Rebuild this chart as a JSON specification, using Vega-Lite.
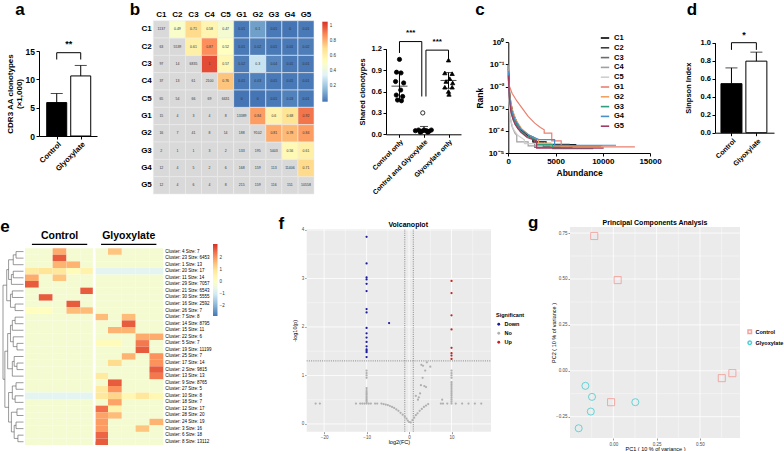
{
"$schema":"https://vega.github.io/schema/vega-lite/v6.json",
"width":784,"height":451,"padding":0,"autosize":{"type":"none"},"background":"white",
"config":{"view":{"stroke":null},"font":"Liberation Sans","axis":{"labelFont":"Liberation Sans","titleFont":"Liberation Sans","labelOverlap":false,"labelFlush":false,"grid":false},"legend":{"labelFont":"Liberation Sans","titleFont":"Liberation Sans","padding":0}},
"datasets":{
"a":[{"g":1,"m":5.9,"e":7.5},{"g":2,"m":10.6,"e":12.45}],
"abr":[{"x":1,"x2":2,"y":14.7,"y2":14.7},{"x":1,"x2":1,"y":13.5,"y2":14.7},{"x":2,"x2":2,"y":13.5,"y2":14.7}],
"d":[{"g":1,"m":0.545,"e":0.72},{"g":2,"m":0.795,"e":0.895}],
"dbr":[{"x":1,"x2":2,"y":1.0,"y2":1.0},{"x":1,"x2":1,"y":0.92,"y2":1.0},{"x":2,"x2":2,"y":0.92,"y2":1.0}],
"sh":[{"g":1,"x":1.0,"y":1.05},{"g":1,"x":0.88,"y":0.87},{"g":1,"x":1.06,"y":0.86},{"g":1,"x":0.84,"y":0.74},{"g":1,"x":1.17,"y":0.72},{"g":1,"x":1.05,"y":0.62},{"g":1,"x":0.87,"y":0.55},{"g":1,"x":1.13,"y":0.53},{"g":1,"x":0.92,"y":0.48},{"g":1,"x":1.08,"y":0.47},
{"g":2,"x":1.65,"y":0.05},{"g":2,"x":1.78,"y":0.06},{"g":2,"x":1.9,"y":0.04},{"g":2,"x":2.0,"y":0.06},{"g":2,"x":2.1,"y":0.05},{"g":2,"x":2.2,"y":0.04},{"g":2,"x":2.3,"y":0.06},{"g":2,"x":1.85,"y":0.03},{"g":2,"x":2.15,"y":0.03},{"g":2,"x":1.95,"y":0.3,"open":1},
{"g":3,"x":3.0,"y":1.04},{"g":3,"x":2.85,"y":0.86},{"g":3,"x":3.15,"y":0.85},{"g":3,"x":3.05,"y":0.78},{"g":3,"x":2.9,"y":0.74},{"g":3,"x":3.17,"y":0.72},{"g":3,"x":2.85,"y":0.66},{"g":3,"x":3.15,"y":0.66},{"g":3,"x":3.0,"y":0.6},{"g":3,"x":3.02,"y":0.56}],
"shs":[{"x":1,"m":0.675,"lo":0.49,"hi":0.86},{"x":2,"m":0.065,"lo":0.03,"hi":0.11},{"x":3,"m":0.755,"lo":0.645,"hi":0.865}],
"shbr":[{"x":1,"x2":1.91,"y":1.3,"y2":1.3},{"x":1,"x2":1,"y":1.14,"y2":1.3},{"x":1.91,"x2":1.91,"y":0.53,"y2":1.3},{"x":2.08,"x2":3,"y":1.18,"y2":1.18},{"x":2.08,"x2":2.08,"y":0.53,"y2":1.18},{"x":3,"x2":3,"y":1.02,"y2":1.18}],
"hb":[{"r":"C1","c":"C2","v":0.49},{"r":"C1","c":"C3","v":0.71},{"r":"C1","c":"C4","v":0.58},{"r":"C1","c":"C5","v":0.47},{"r":"C1","c":"G1","v":0.01},{"r":"C1","c":"G2","v":0.1},{"r":"C1","c":"G3","v":0.01},{"r":"C1","c":"G4","v":0.0},{"r":"C1","c":"G5","v":0.01},
{"r":"C2","c":"C3","v":0.61},{"r":"C2","c":"C4","v":0.87},{"r":"C2","c":"C5","v":0.52},{"r":"C2","c":"G1","v":0.01},{"r":"C2","c":"G2","v":0.02},{"r":"C2","c":"G3","v":0.01},{"r":"C2","c":"G4","v":0.01},{"r":"C2","c":"G5","v":0.02},
{"r":"C3","c":"C4","v":1.0},{"r":"C3","c":"C5","v":0.57},{"r":"C3","c":"G1","v":0.02},{"r":"C3","c":"G2","v":0.3},{"r":"C3","c":"G3","v":0.04},{"r":"C3","c":"G4","v":0.01},{"r":"C3","c":"G5","v":0.01},
{"r":"C4","c":"C5","v":0.76},{"r":"C4","c":"G1","v":0.01},{"r":"C4","c":"G2","v":0.03},{"r":"C4","c":"G3","v":0.01},{"r":"C4","c":"G4","v":0.01},{"r":"C4","c":"G5","v":0.01},
{"r":"C5","c":"G1","v":0.0},{"r":"C5","c":"G2","v":0.0},{"r":"C5","c":"G3","v":0.01},{"r":"C5","c":"G4","v":0.03},{"r":"C5","c":"G5","v":0.01},
{"r":"G1","c":"G2","v":0.84},{"r":"G1","c":"G3","v":0.6},{"r":"G1","c":"G4","v":0.68},{"r":"G1","c":"G5","v":0.92},
{"r":"G2","c":"G3","v":0.81},{"r":"G2","c":"G4","v":0.78},{"r":"G2","c":"G5","v":0.84},
{"r":"G3","c":"G4","v":0.56},{"r":"G3","c":"G5","v":0.61},{"r":"G4","c":"G5","v":0.71}],
"hbn":[{"r":"C1","c":"C1","n":1137},{"r":"C2","c":"C2","n":5539},{"r":"C3","c":"C3","n":6835},{"r":"C4","c":"C4","n":2100},{"r":"C5","c":"C5","n":6631},{"r":"G1","c":"G1","n":13389},{"r":"G2","c":"G2","n":9102},{"r":"G3","c":"G3","n":5003},{"r":"G4","c":"G4","n":11406},{"r":"G5","c":"G5","n":10558},
{"r":"C2","c":"C1","n":63},
{"r":"C3","c":"C1","n":97},{"r":"C3","c":"C2","n":14},
{"r":"C4","c":"C1","n":37},{"r":"C4","c":"C2","n":13},{"r":"C4","c":"C3","n":61},
{"r":"C5","c":"C1","n":65},{"r":"C5","c":"C2","n":54},{"r":"C5","c":"C3","n":66},{"r":"C5","c":"C4","n":69},
{"r":"G1","c":"C1","n":15},{"r":"G1","c":"C2","n":4},{"r":"G1","c":"C3","n":3},{"r":"G1","c":"C4","n":4},{"r":"G1","c":"C5","n":8},
{"r":"G2","c":"C1","n":16},{"r":"G2","c":"C2","n":7},{"r":"G2","c":"C3","n":41},{"r":"G2","c":"C4","n":8},{"r":"G2","c":"C5","n":14},{"r":"G2","c":"G1","n":188},
{"r":"G3","c":"C1","n":2},{"r":"G3","c":"C2","n":1},{"r":"G3","c":"C3","n":1},{"r":"G3","c":"C4","n":3},{"r":"G3","c":"C5","n":2},{"r":"G3","c":"G1","n":133},{"r":"G3","c":"G2","n":195},
{"r":"G4","c":"C1","n":12},{"r":"G4","c":"C2","n":4},{"r":"G4","c":"C3","n":5},{"r":"G4","c":"C4","n":2},{"r":"G4","c":"C5","n":6},{"r":"G4","c":"G1","n":168},{"r":"G4","c":"G2","n":159},{"r":"G4","c":"G3","n":113},
{"r":"G5","c":"C1","n":12},{"r":"G5","c":"C2","n":4},{"r":"G5","c":"C3","n":6},{"r":"G5","c":"C4","n":4},{"r":"G5","c":"C5","n":8},{"r":"G5","c":"G1","n":215},{"r":"G5","c":"G2","n":159},{"r":"G5","c":"G3","n":116},{"r":"G5","c":"G4","n":151}],
"c":[
{"s":"C1","x":0,"y":0.1},{"s":"C1","x":80,"y":0.01},{"s":"C1","x":250,"y":0.002},{"s":"C1","x":500,"y":0.000631},{"s":"C1","x":900,"y":0.000251},{"s":"C1","x":1400,"y":0.000112},{"s":"C1","x":2000,"y":0.0000631},{"s":"C1","x":2600,"y":0.0000447},{"s":"C1","x":2600,"y":0.0000316},{"s":"C1","x":4000,"y":0.0000316},{"s":"C1","x":4000,"y":0.000024},{"s":"C1","x":7200,"y":0.000024},
{"s":"C2","x":0,"y":0.0794},{"s":"C2","x":80,"y":0.00631},{"s":"C2","x":250,"y":0.00126},{"s":"C2","x":600,"y":0.000398},{"s":"C2","x":1000,"y":0.000158},{"s":"C2","x":1700,"y":0.0000794},{"s":"C2","x":2700,"y":0.0000501},{"s":"C2","x":2700,"y":0.0000316},{"s":"C2","x":3700,"y":0.0000316},{"s":"C2","x":3700,"y":0.00002},{"s":"C2","x":9800,"y":0.00002},
{"s":"C3","x":0,"y":0.0631},{"s":"C3","x":60,"y":0.00501},{"s":"C3","x":200,"y":0.001},{"s":"C3","x":500,"y":0.000316},{"s":"C3","x":1000,"y":0.000126},{"s":"C3","x":1800,"y":0.0000631},{"s":"C3","x":2800,"y":0.0000398},{"s":"C3","x":2800,"y":0.0000178},{"s":"C3","x":6800,"y":0.0000178},
{"s":"C4","x":0,"y":0.1},{"s":"C4","x":40,"y":0.00316},{"s":"C4","x":150,"y":0.000501},{"s":"C4","x":400,"y":0.000158},{"s":"C4","x":700,"y":0.0000794},{"s":"C4","x":900,"y":0.0000631},{"s":"C4","x":900,"y":0.0000316},{"s":"C4","x":2100,"y":0.0000316},{"s":"C4","x":2100,"y":0.0000209},{"s":"C4","x":6400,"y":0.0000209},
{"s":"C5","x":0,"y":0.0501},{"s":"C5","x":60,"y":0.00251},{"s":"C5","x":200,"y":0.000398},{"s":"C5","x":500,"y":0.000126},{"s":"C5","x":1000,"y":0.0000631},{"s":"C5","x":1700,"y":0.0000398},{"s":"C5","x":1700,"y":0.0000263},{"s":"C5","x":6500,"y":0.0000263},
{"s":"G1","x":0,"y":0.0141},{"s":"G1","x":400,"y":0.00501},{"s":"G1","x":900,"y":0.00224},{"s":"G1","x":1500,"y":0.001},{"s":"G1","x":2100,"y":0.000447},{"s":"G1","x":2800,"y":0.000224},{"s":"G1","x":3400,"y":0.000141},{"s":"G1","x":3800,"y":0.000112},{"s":"G1","x":3800,"y":0.0000794},{"s":"G1","x":4600,"y":0.0000794},{"s":"G1","x":4600,"y":0.0000355},{"s":"G1","x":5600,"y":0.0000355},{"s":"G1","x":5600,"y":0.0000191},{"s":"G1","x":13400,"y":0.0000191},
{"s":"G2","x":0,"y":0.0251},{"s":"G2","x":150,"y":0.00398},{"s":"G2","x":400,"y":0.001},{"s":"G2","x":800,"y":0.000316},{"s":"G2","x":1400,"y":0.000126},{"s":"G2","x":2200,"y":0.0000631},{"s":"G2","x":3200,"y":0.0000398},{"s":"G2","x":3200,"y":0.0000282},{"s":"G2","x":4500,"y":0.0000282},{"s":"G2","x":4500,"y":0.0000209},{"s":"G2","x":10000,"y":0.0000209},
{"s":"G3","x":0,"y":0.0398},{"s":"G3","x":100,"y":0.00398},{"s":"G3","x":300,"y":0.000794},{"s":"G3","x":700,"y":0.000251},{"s":"G3","x":1300,"y":0.0001},{"s":"G3","x":2000,"y":0.0000562},{"s":"G3","x":3000,"y":0.0000398},{"s":"G3","x":3000,"y":0.000024},{"s":"G3","x":4700,"y":0.000024},{"s":"G3","x":4700,"y":0.0000158},{"s":"G3","x":9000,"y":0.0000158},
{"s":"G4","x":0,"y":0.0501},{"s":"G4","x":100,"y":0.00501},{"s":"G4","x":300,"y":0.001},{"s":"G4","x":700,"y":0.000316},{"s":"G4","x":1300,"y":0.000126},{"s":"G4","x":2200,"y":0.0000631},{"s":"G4","x":3300,"y":0.0000398},{"s":"G4","x":4900,"y":0.0000398},{"s":"G4","x":4900,"y":0.0000224},{"s":"G4","x":11400,"y":0.0000224},
{"s":"G5","x":0,"y":0.0316},{"s":"G5","x":100,"y":0.00316},{"s":"G5","x":300,"y":0.000631},{"s":"G5","x":700,"y":0.0002},{"s":"G5","x":1300,"y":0.0000891},{"s":"G5","x":2000,"y":0.0000501},{"s":"G5","x":3000,"y":0.0000355},{"s":"G5","x":3000,"y":0.0000166},{"s":"G5","x":10100,"y":0.0000166}],
"he":[
{"cl":"Cluster: 4 Size: 7","C1":-0.15,"C2":-0.15,"C3":1.8,"C4":-0.15,"C5":-0.15,"G1":-0.15,"G2":1.5,"G3":-0.15,"G4":-0.15,"G5":-0.15},
{"cl":"Cluster: 23 Size: 6453","C1":-0.15,"C2":-0.15,"C3":2.7,"C4":-0.15,"C5":-0.15,"G1":-0.15,"G2":-0.15,"G3":-0.15,"G4":-0.15,"G5":-0.15},
{"cl":"Cluster: 1 Size: 13","C1":-0.15,"C2":-0.15,"C3":1.7,"C4":1.7,"C5":-0.15,"G1":-0.15,"G2":-0.15,"G3":-0.15,"G4":-0.15,"G5":-0.15},
{"cl":"Cluster: 20 Size: 17","C1":0.8,"C2":1.0,"C3":0.9,"C4":0.3,"C5":0.6,"G1":-0.7,"G2":-0.7,"G3":-0.7,"G4":-0.7,"G5":-0.7},
{"cl":"Cluster: 11 Size: 14","C1":1.8,"C2":-0.15,"C3":1.5,"C4":-0.15,"C5":-0.15,"G1":-0.15,"G2":-0.15,"G3":-0.15,"G4":-0.15,"G5":-0.15},
{"cl":"Cluster: 29 Size: 7057","C1":2.7,"C2":-0.15,"C3":-0.15,"C4":-0.15,"C5":-0.15,"G1":-0.15,"G2":-0.15,"G3":-0.15,"G4":-0.15,"G5":-0.15},
{"cl":"Cluster: 21 Size: 6543","C1":-0.15,"C2":-0.15,"C3":-0.15,"C4":-0.15,"C5":2.7,"G1":-0.15,"G2":-0.15,"G3":-0.15,"G4":-0.15,"G5":-0.15},
{"cl":"Cluster: 30 Size: 5555","C1":-0.15,"C2":2.7,"C3":-0.15,"C4":-0.15,"C5":-0.15,"G1":-0.15,"G2":-0.15,"G3":-0.15,"G4":-0.15,"G5":-0.15},
{"cl":"Cluster: 16 Size: 2592","C1":-0.15,"C2":-0.15,"C3":-0.15,"C4":2.7,"C5":-0.15,"G1":-0.15,"G2":-0.15,"G3":-0.15,"G4":-0.15,"G5":-0.15},
{"cl":"Cluster: 26 Size: 7","C1":0.2,"C2":0.2,"C3":-0.15,"C4":1.6,"C5":1.6,"G1":-0.15,"G2":-0.15,"G3":-0.15,"G4":-0.15,"G5":-0.15},
{"cl":"Cluster: 7 Size: 8","C1":-0.15,"C2":-0.15,"C3":-0.15,"C4":-0.15,"C5":-0.15,"G1":1.6,"G2":-0.15,"G3":1.6,"G4":-0.15,"G5":-0.15},
{"cl":"Cluster: 14 Size: 8795","C1":-0.15,"C2":-0.15,"C3":-0.15,"C4":-0.15,"C5":-0.15,"G1":-0.15,"G2":-0.15,"G3":2.7,"G4":-0.15,"G5":-0.15},
{"cl":"Cluster: 15 Size: 11","C1":-0.15,"C2":-0.15,"C3":-0.15,"C4":-0.15,"C5":-0.15,"G1":-0.15,"G2":1.7,"G3":1.7,"G4":-0.15,"G5":-0.15},
{"cl":"Cluster: 22 Size: 6","C1":-0.15,"C2":-0.15,"C3":-0.15,"C4":-0.15,"C5":-0.15,"G1":-0.15,"G2":-0.15,"G3":-0.15,"G4":1.8,"G5":1.8},
{"cl":"Cluster: 5 Size: 7","C1":-0.15,"C2":-0.15,"C3":-0.15,"C4":-0.15,"C5":-0.15,"G1":0.3,"G2":0.3,"G3":-0.15,"G4":2.4,"G5":-0.15},
{"cl":"Cluster: 19 Size: 11199","C1":-0.15,"C2":-0.15,"C3":-0.15,"C4":-0.15,"C5":-0.15,"G1":-0.15,"G2":-0.15,"G3":-0.15,"G4":2.7,"G5":-0.15},
{"cl":"Cluster: 25 Size: 7","C1":-0.15,"C2":-0.15,"C3":-0.15,"C4":-0.15,"C5":-0.15,"G1":-0.15,"G2":-0.15,"G3":1.7,"G4":-0.15,"G5":2.1},
{"cl":"Cluster: 17 Size: 14","C1":-0.15,"C2":-0.15,"C3":-0.15,"C4":-0.15,"C5":-0.15,"G1":-0.15,"G2":1.2,"G3":-0.15,"G4":-0.15,"G5":2.1},
{"cl":"Cluster: 2 Size: 9815","C1":-0.15,"C2":-0.15,"C3":-0.15,"C4":-0.15,"C5":-0.15,"G1":-0.15,"G2":-0.15,"G3":-0.15,"G4":-0.15,"G5":2.7},
{"cl":"Cluster: 13 Size: 13","C1":-0.15,"C2":-0.15,"C3":-0.15,"C4":-0.15,"C5":-0.15,"G1":0.8,"G2":-0.15,"G3":-0.15,"G4":-0.15,"G5":2.4},
{"cl":"Cluster: 9 Size: 8765","C1":-0.15,"C2":-0.15,"C3":-0.15,"C4":-0.15,"C5":-0.15,"G1":-0.15,"G2":2.7,"G3":-0.15,"G4":-0.15,"G5":-0.15},
{"cl":"Cluster: 27 Size: 5","C1":-0.15,"C2":-0.15,"C3":-0.15,"C4":-0.15,"C5":-0.15,"G1":0.8,"G2":2.1,"G3":-0.15,"G4":-0.15,"G5":-0.15},
{"cl":"Cluster: 10 Size: 8","C1":-0.7,"C2":-0.7,"C3":-0.7,"C4":-0.7,"C5":-0.7,"G1":0.9,"G2":1.3,"G3":0.4,"G4":0.9,"G5":0.4},
{"cl":"Cluster: 18 Size: 7","C1":-0.15,"C2":-0.15,"C3":-0.15,"C4":-0.15,"C5":-0.15,"G1":-0.15,"G2":1.9,"G3":-0.15,"G4":-0.15,"G5":-0.15},
{"cl":"Cluster: 12 Size: 17","C1":-0.15,"C2":-0.15,"C3":-0.15,"C4":-0.15,"C5":-0.15,"G1":2.5,"G2":0.6,"G3":-0.15,"G4":-0.15,"G5":-0.15},
{"cl":"Cluster: 28 Size: 20","C1":-0.15,"C2":-0.15,"C3":-0.15,"C4":-0.15,"C5":-0.15,"G1":1.9,"G2":1.6,"G3":-0.15,"G4":-0.15,"G5":-0.15},
{"cl":"Cluster: 24 Size: 19","C1":-0.15,"C2":-0.15,"C3":-0.15,"C4":-0.15,"C5":-0.15,"G1":2.0,"G2":-0.15,"G3":-0.15,"G4":-0.15,"G5":1.7},
{"cl":"Cluster: 3 Size: 16","C1":-0.15,"C2":-0.15,"C3":-0.15,"C4":-0.15,"C5":-0.15,"G1":2.0,"G2":-0.15,"G3":-0.15,"G4":1.5,"G5":-0.15},
{"cl":"Cluster: 6 Size: 18","C1":-0.15,"C2":-0.15,"C3":-0.15,"C4":-0.15,"C5":-0.15,"G1":2.6,"G2":-0.15,"G3":-0.15,"G4":-0.15,"G5":-0.15},
{"cl":"Cluster: 8 Size: 13112","C1":-0.15,"C2":-0.15,"C3":-0.15,"C4":-0.15,"C5":-0.15,"G1":2.7,"G2":-0.15,"G3":-0.15,"G4":-0.15,"G5":-0.15}],
"dend":[
{"a":0,"b":8,"y":1,"y2":1},{"a":0,"b":8,"y":2,"y2":2},{"a":8,"b":8,"y":1,"y2":2},
{"a":8,"b":11,"y":1.5,"y2":1.5},{"a":0,"b":11,"y":3,"y2":3},{"a":11,"b":11,"y":1.5,"y2":3},
{"a":0,"b":11,"y":4,"y2":4},{"a":0,"b":11,"y":5,"y2":5},{"a":11,"b":11,"y":4,"y2":5},
{"a":11,"b":13,"y":4.5,"y2":4.5},{"a":0,"b":13,"y":6,"y2":6},{"a":13,"b":13,"y":4.5,"y2":6},
{"a":11,"b":16,"y":2.25,"y2":2.25},{"a":13,"b":16,"y":5.25,"y2":5.25},{"a":16,"b":16,"y":2.25,"y2":5.25},
{"a":0,"b":12,"y":7,"y2":7},{"a":0,"b":12,"y":8,"y2":8},{"a":12,"b":12,"y":7,"y2":8},
{"a":0,"b":9,"y":9,"y2":9},{"a":0,"b":9,"y":10,"y2":10},{"a":9,"b":9,"y":9,"y2":10},
{"a":12,"b":14,"y":7.5,"y2":7.5},{"a":9,"b":14,"y":9.5,"y2":9.5},{"a":14,"b":14,"y":7.5,"y2":9.5},
{"a":16,"b":18,"y":3.75,"y2":3.75},{"a":14,"b":18,"y":8.5,"y2":8.5},{"a":18,"b":18,"y":3.75,"y2":8.5},
{"a":0,"b":9,"y":11,"y2":11},{"a":0,"b":9,"y":12,"y2":12},{"a":9,"b":9,"y":11,"y2":12},
{"a":9,"b":12,"y":11.5,"y2":11.5},{"a":0,"b":12,"y":13,"y2":13},{"a":12,"b":12,"y":11.5,"y2":13},
{"a":0,"b":7,"y":15,"y2":15},{"a":0,"b":7,"y":16,"y2":16},{"a":7,"b":7,"y":15,"y2":16},
{"a":0,"b":11,"y":14,"y2":14},{"a":7,"b":11,"y":15.5,"y2":15.5},{"a":11,"b":11,"y":14,"y2":15.5},
{"a":12,"b":14,"y":12.25,"y2":12.25},{"a":11,"b":14,"y":14.75,"y2":14.75},{"a":14,"b":14,"y":12.25,"y2":14.75},
{"a":0,"b":7,"y":18,"y2":18},{"a":0,"b":7,"y":19,"y2":19},{"a":7,"b":7,"y":18,"y2":19},
{"a":0,"b":10,"y":17,"y2":17},{"a":7,"b":10,"y":18.5,"y2":18.5},{"a":10,"b":10,"y":17,"y2":18.5},
{"a":10,"b":12,"y":17.75,"y2":17.75},{"a":0,"b":12,"y":20,"y2":20},{"a":12,"b":12,"y":17.75,"y2":20},
{"a":14,"b":17,"y":13.5,"y2":13.5},{"a":12,"b":17,"y":18.875,"y2":18.875},{"a":17,"b":17,"y":13.5,"y2":18.875},
{"a":0,"b":8,"y":21,"y2":21},{"a":0,"b":8,"y":22,"y2":22},{"a":8,"b":8,"y":21,"y2":22},
{"a":0,"b":9,"y":23,"y2":23},{"a":0,"b":9,"y":24,"y2":24},{"a":9,"b":9,"y":23,"y2":24},
{"a":8,"b":12,"y":21.5,"y2":21.5},{"a":9,"b":12,"y":23.5,"y2":23.5},{"a":12,"b":12,"y":21.5,"y2":23.5},
{"a":0,"b":7,"y":25,"y2":25},{"a":0,"b":7,"y":26,"y2":26},{"a":7,"b":7,"y":25,"y2":26},
{"a":0,"b":8,"y":27,"y2":27},{"a":0,"b":8,"y":28,"y2":28},{"a":8,"b":8,"y":27,"y2":28},
{"a":0,"b":6,"y":29,"y2":29},{"a":0,"b":6,"y":30,"y2":30},{"a":6,"b":6,"y":29,"y2":30},
{"a":8,"b":10,"y":27.5,"y2":27.5},{"a":6,"b":10,"y":29.5,"y2":29.5},{"a":10,"b":10,"y":27.5,"y2":29.5},
{"a":7,"b":13,"y":25.5,"y2":25.5},{"a":10,"b":13,"y":28.5,"y2":28.5},{"a":13,"b":13,"y":25.5,"y2":28.5},
{"a":12,"b":16,"y":22.5,"y2":22.5},{"a":13,"b":16,"y":27,"y2":27},{"a":16,"b":16,"y":22.5,"y2":27},
{"a":17,"b":20,"y":16.19,"y2":16.19},{"a":16,"b":20,"y":24.75,"y2":24.75},{"a":20,"b":20,"y":16.19,"y2":24.75},
{"a":18,"b":22,"y":6.125,"y2":6.125},{"a":20,"b":22,"y":20.47,"y2":20.47},{"a":22,"b":22,"y":6.125,"y2":20.47}],
"vol":[
{"x":-10,"y":3.86,"s":"Down"},{"x":-10,"y":3.31,"s":"Down"},{"x":-10,"y":3.02,"s":"Down"},{"x":-10,"y":2.98,"s":"Down"},{"x":-10,"y":2.89,"s":"Down"},{"x":-10,"y":2.74,"s":"Down"},{"x":-10,"y":2.37,"s":"Down"},{"x":-10,"y":2.3,"s":"Down"},{"x":-10,"y":1.98,"s":"Down"},{"x":-10,"y":1.87,"s":"Down"},{"x":-10,"y":1.78,"s":"Down"},{"x":-10,"y":1.69,"s":"Down"},{"x":-10,"y":1.6,"s":"Down"},{"x":-10,"y":1.54,"s":"Down"},{"x":-10,"y":1.51,"s":"Down"},{"x":-10,"y":1.48,"s":"Down"},{"x":-10,"y":1.38,"s":"Down"},{"x":-4.7,"y":2.08,"s":"Down"},
{"x":10,"y":2.95,"s":"Up"},{"x":10,"y":2.7,"s":"Up"},{"x":10,"y":2.24,"s":"Up"},{"x":10,"y":1.95,"s":"Up"},{"x":10,"y":1.57,"s":"Up"},{"x":10,"y":1.46,"s":"Up"},{"x":10,"y":1.41,"s":"Up"},{"x":10,"y":1.34,"s":"Up"},
{"x":-10,"y":0.42,"s":"No"},{"x":-10,"y":0.45,"s":"No"},{"x":-10,"y":0.48,"s":"No"},{"x":-10,"y":0.51,"s":"No"},{"x":-10,"y":0.54,"s":"No"},{"x":-10,"y":0.57,"s":"No"},{"x":-10,"y":0.6,"s":"No"},{"x":-10,"y":0.63,"s":"No"},{"x":-10,"y":0.66,"s":"No"},{"x":-10,"y":0.7,"s":"No"},{"x":-10,"y":0.74,"s":"No"},{"x":-10,"y":0.95,"s":"No"},{"x":-10,"y":1.0,"s":"No"},{"x":-10,"y":1.05,"s":"No"},{"x":-10,"y":1.1,"s":"No"},
{"x":10,"y":0.42,"s":"No"},{"x":10,"y":0.46,"s":"No"},{"x":10,"y":0.5,"s":"No"},{"x":10,"y":0.54,"s":"No"},{"x":10,"y":0.58,"s":"No"},{"x":10,"y":0.62,"s":"No"},{"x":10,"y":0.66,"s":"No"},{"x":10,"y":0.7,"s":"No"},{"x":10,"y":0.74,"s":"No"},{"x":10,"y":0.78,"s":"No"},{"x":10,"y":0.82,"s":"No"},{"x":10,"y":0.86,"s":"No"},{"x":10,"y":0.95,"s":"No"},{"x":10,"y":1.0,"s":"No"},{"x":10,"y":1.05,"s":"No"},{"x":10,"y":1.1,"s":"No"},
{"x":-22,"y":0.42,"s":"No"},{"x":-21,"y":0.42,"s":"No"},{"x":-12.5,"y":0.42,"s":"No"},{"x":-11.5,"y":0.42,"s":"No"},{"x":-11,"y":0.42,"s":"No"},{"x":-10.5,"y":0.42,"s":"No"},{"x":-9.5,"y":0.42,"s":"No"},{"x":-9,"y":0.42,"s":"No"},{"x":-8,"y":0.42,"s":"No"},{"x":-7.5,"y":0.42,"s":"No"},{"x":-6.5,"y":0.42,"s":"No"},
{"x":7.5,"y":0.42,"s":"No"},{"x":8,"y":0.42,"s":"No"},{"x":9,"y":0.42,"s":"No"},{"x":11,"y":0.42,"s":"No"},{"x":12.5,"y":0.42,"s":"No"},{"x":14,"y":0.42,"s":"No"},{"x":15.5,"y":0.42,"s":"No"},{"x":17,"y":0.42,"s":"No"},
{"x":-6,"y":0.41,"s":"No"},{"x":-5.5,"y":0.4,"s":"No"},{"x":-5,"y":0.39,"s":"No"},{"x":-4.5,"y":0.37,"s":"No"},{"x":-4,"y":0.35,"s":"No"},{"x":-3.5,"y":0.33,"s":"No"},{"x":-3,"y":0.3,"s":"No"},{"x":-2.5,"y":0.27,"s":"No"},{"x":-2,"y":0.23,"s":"No"},{"x":-1.5,"y":0.19,"s":"No"},{"x":-1,"y":0.15,"s":"No"},{"x":-0.6,"y":0.11,"s":"No"},{"x":-0.3,"y":0.07,"s":"No"},{"x":0,"y":0.04,"s":"No"},{"x":0.4,"y":0.03,"s":"No"},{"x":0.8,"y":0.08,"s":"No"},{"x":1.2,"y":0.13,"s":"No"},{"x":1.6,"y":0.18,"s":"No"},{"x":2,"y":0.22,"s":"No"},{"x":2.5,"y":0.27,"s":"No"},{"x":3,"y":0.31,"s":"No"},{"x":3.5,"y":0.35,"s":"No"},{"x":4,"y":0.38,"s":"No"},{"x":4.5,"y":0.41,"s":"No"},
{"x":7.8,"y":0.5,"s":"No"},{"x":1.6,"y":0.58,"s":"No"},{"x":2.3,"y":0.55,"s":"No"},{"x":2.6,"y":0.63,"s":"No"},{"x":2.8,"y":0.8,"s":"No"},{"x":3.2,"y":0.95,"s":"No"},{"x":3.6,"y":0.78,"s":"No"},{"x":4.0,"y":0.76,"s":"No"},{"x":3.8,"y":1.1,"s":"No"},{"x":3.3,"y":1.2,"s":"No"},{"x":2.9,"y":1.22,"s":"No"},{"x":4.2,"y":1.27,"s":"No"},{"x":5.0,"y":1.18,"s":"No"},{"x":2.1,"y":0.5,"s":"No"}],
"fgxM":[{"v":-20},{"v":-10},{"v":0},{"v":10}],
"fgxm":[{"v":-15},{"v":-5},{"v":5},{"v":15}],
"fgyM":[{"v":0},{"v":1},{"v":2},{"v":3},{"v":4}],
"fgym":[{"v":0.5},{"v":1.5},{"v":2.5},{"v":3.5}],
"pca":[{"grp":"Control","x":-0.11,"y":0.734},{"grp":"Control","x":0.025,"y":0.494},{"grp":"Control","x":-0.013,"y":-0.171},{"grp":"Control","x":0.626,"y":-0.04},{"grp":"Control","x":0.687,"y":-0.013},
{"grp":"Glyoxylate","x":-0.161,"y":-0.082},{"grp":"Glyoxylate","x":-0.123,"y":-0.142},{"grp":"Glyoxylate","x":-0.13,"y":-0.222},{"grp":"Glyoxylate","x":-0.2,"y":-0.313},{"grp":"Glyoxylate","x":0.127,"y":-0.171}],
"ggxM":[{"v":0},{"v":0.25},{"v":0.5}],
"ggxm":[{"v":-0.125},{"v":0.125},{"v":0.375},{"v":0.625}],
"ggyM":[{"v":-0.25},{"v":0},{"v":0.25},{"v":0.5},{"v":0.75}],
"ggym":[{"v":-0.125},{"v":0.125},{"v":0.375},{"v":0.625}]
},
"layer":[
{"data":{"name":"a"},"layer":[
 {"mark":{"type":"bar","size":20,"orient":"vertical","stroke":"black","strokeWidth":1},
  "encoding":{
   "x":{"field":"g","type":"quantitative","scale":{"domain":[0.47,2.47],"range":[39,97],"nice":false,"zero":false},
    "axis":{"orient":"bottom","offset":-315,"values":[1,2],"labelExpr":"datum.value==1?'Control':'Glyoxylate'","labelAngle":-45,"labelAlign":"right","labelBaseline":"top","labelFontSize":7.5,"labelFontWeight":"bold","labelColor":"black","labelPadding":1,"domainColor":"black","domainWidth":1,"tickColor":"black","tickWidth":1,"tickSize":3,"title":null}},
   "y":{"field":"m","type":"quantitative","scale":{"domain":[0,15],"range":[136,51],"nice":false,"zero":false},
    "axis":{"orient":"left","offset":-39,"values":[0,5,10,15],"labelFontSize":8.5,"labelFontWeight":"bold","labelColor":"black","labelPadding":1.5,"domainColor":"black","domainWidth":1,"tickColor":"black","tickWidth":1,"tickSize":3,"title":["CDR3 AA clonotypes","(×1,000)"],"titleFontSize":8,"titleFontWeight":"bold","titleColor":"black","titleX":-25,"titleLineHeight":9}},
   "fill":{"condition":{"test":"datum.g==1","value":"black"},"value":"white"}}},
 {"mark":{"type":"rule","color":"black","strokeWidth":1},"encoding":{"x":{"field":"g","type":"quantitative"},"y":{"field":"m","type":"quantitative"},"y2":{"field":"e"}}},
 {"mark":{"type":"tick","orient":"horizontal","size":12,"thickness":1,"color":"black"},"encoding":{"x":{"field":"g","type":"quantitative"},"y":{"field":"e","type":"quantitative"}}},
 {"data":{"name":"abr"},"mark":{"type":"rule","color":"black","strokeWidth":1},"encoding":{"x":{"field":"x","type":"quantitative"},"x2":{"field":"x2"},"y":{"field":"y","type":"quantitative"},"y2":{"field":"y2"}}},
 {"data":{"values":[{}]},"mark":{"type":"text","text":"**","fontSize":9,"fontWeight":"bold"},"encoding":{"x":{"datum":1.5,"type":"quantitative"},"y":{"datum":16.3,"type":"quantitative"}}},
 {"data":{"values":[{}]},"mark":{"type":"text","text":"a","fontSize":17,"fontWeight":"bold"},"encoding":{"x":{"datum":-0.53,"type":"quantitative"},"y":{"datum":22.2,"type":"quantitative"}}}
]},
{"layer":[
 {"data":{"name":"hbn"},"mark":{"type":"rect","fill":"#d9d9d9","stroke":"#ececec","strokeWidth":0.6},
  "encoding":{
   "x":{"field":"c","type":"nominal","scale":{"domain":["C1","C2","C3","C4","C5","G1","G2","G3","G4","G5"],"range":[153.3,314],"paddingInner":0,"paddingOuter":0},
    "axis":{"orient":"top","offset":-20.7,"domain":false,"ticks":false,"labelPadding":2,"labelFontSize":8,"labelFontWeight":"bold","labelColor":"black","labelAngle":0,"title":null}},
   "y":{"field":"r","type":"nominal","scale":{"domain":["C1","C2","C3","C4","C5","G1","G2","G3","G4","G5"],"range":[20.7,194],"paddingInner":0,"paddingOuter":0},
    "axis":{"orient":"left","offset":-153.3,"domain":false,"ticks":false,"labelPadding":2,"labelFontSize":8,"labelFontWeight":"bold","labelColor":"black","title":null}}}},
 {"data":{"name":"hb"},"mark":{"type":"rect","stroke":"#ececec","strokeWidth":0.6},
  "encoding":{"x":{"field":"c","type":"nominal"},"y":{"field":"r","type":"nominal"},
   "color":{"field":"v","type":"quantitative","scale":{"domain":[0,0.175,0.35,0.525,0.7,0.875,1.05],"range":["#4575b4","#91bfdb","#e0f3f8","#ffffbf","#fee090","#fc8d59","#d73027"],"interpolate":"rgb"},
    "legend":{"orient":"none","legendX":322.3,"legendY":21.7,"direction":"vertical","title":null,"gradientLength":80,"gradientThickness":5.4,"gradientStrokeWidth":0,"values":[1,0.8,0.6,0.4,0.2],"labelFontSize":4.5,"labelColor":"#333333","labelOffset":2,"format":"~g"}}}},
 {"data":{"name":"hbn"},"mark":{"type":"text","fontSize":3.5,"color":"#333333"},"encoding":{"x":{"field":"c","type":"nominal"},"y":{"field":"r","type":"nominal"},"text":{"field":"n","type":"quantitative","format":"d"}}},
 {"data":{"name":"hb"},"mark":{"type":"text","fontSize":3.5,"color":"#333333"},"encoding":{"x":{"field":"c","type":"nominal"},"y":{"field":"r","type":"nominal"},"text":{"field":"v","type":"quantitative","format":".2~f"}}},
 {"data":{"values":[{}]},"mark":{"type":"text","text":"b","fontSize":17,"fontWeight":"bold"},"encoding":{"x":{"datum":"C1","type":"nominal","bandPosition":-1.15},"y":{"datum":"C1","type":"nominal","bandPosition":-0.62}}}
]},
{"layer":[
 {"data":{"name":"sh"},"mark":{"type":"point","filled":true,"size":18,"stroke":"black","strokeWidth":0.8,"opacity":1},
  "encoding":{
   "x":{"field":"x","type":"quantitative","scale":{"domain":[0.45,3.51],"range":[386,461],"nice":false,"zero":false},
    "axis":{"orient":"bottom","offset":-316.7,"values":[1,2,3],"labelExpr":"datum.value==1?'Control only':(datum.value==2?'Control and Glyoxylate':'Glyoxylate only')","labelAngle":-45,"labelAlign":"right","labelBaseline":"top","labelFontSize":6.8,"labelFontWeight":"bold","labelColor":"black","labelPadding":1,"domainColor":"black","domainWidth":1,"tickColor":"black","tickWidth":1,"tickSize":3,"title":null}},
   "y":{"field":"y","type":"quantitative","scale":{"domain":[0,1.2],"range":[134.3,48.7],"nice":false,"zero":false},
    "axis":{"orient":"left","offset":-386,"values":[0,0.3,0.6,0.9,1.2],"format":".1f","labelFontSize":7.5,"labelFontWeight":"bold","labelColor":"black","labelPadding":1.5,"domainColor":"black","domainWidth":1,"tickColor":"black","tickWidth":1,"tickSize":3,"title":"Shared clonotypes","titleFontSize":7.5,"titleFontWeight":"bold","titleColor":"black","titleX":-19.5}},
   "shape":{"condition":{"test":"datum.g==3","value":"triangle-up"},"value":"circle"},
   "fill":{"condition":{"test":"datum.open==1","value":"white"},"value":"black"}}},
 {"data":{"name":"shs"},"mark":{"type":"rule","color":"black","strokeWidth":1},"encoding":{"x":{"field":"x","type":"quantitative"},"y":{"field":"lo","type":"quantitative"},"y2":{"field":"hi"}}},
 {"data":{"name":"shs"},"mark":{"type":"tick","orient":"horizontal","size":16,"thickness":1,"color":"black"},"encoding":{"x":{"field":"x","type":"quantitative"},"y":{"field":"m","type":"quantitative"}}},
 {"data":{"name":"shs"},"mark":{"type":"tick","orient":"horizontal","size":8,"thickness":1,"color":"black"},"encoding":{"x":{"field":"x","type":"quantitative"},"y":{"field":"lo","type":"quantitative"}}},
 {"data":{"name":"shs"},"mark":{"type":"tick","orient":"horizontal","size":8,"thickness":1,"color":"black"},"encoding":{"x":{"field":"x","type":"quantitative"},"y":{"field":"hi","type":"quantitative"}}},
 {"data":{"name":"shbr"},"mark":{"type":"rule","color":"black","strokeWidth":1},"encoding":{"x":{"field":"x","type":"quantitative"},"x2":{"field":"x2"},"y":{"field":"y","type":"quantitative"},"y2":{"field":"y2"}}},
 {"data":{"values":[{"t":"***","x":1.46,"y":1.42},{"t":"***","x":2.54,"y":1.3}]},"mark":{"type":"text","fontSize":8,"fontWeight":"bold"},"encoding":{"x":{"field":"x","type":"quantitative"},"y":{"field":"y","type":"quantitative"},"text":{"field":"t"}}}
]},
{"data":{"name":"c"},"layer":[
 {"mark":{"type":"line","strokeWidth":1.2},
  "encoding":{
   "x":{"field":"x","type":"quantitative","scale":{"domain":[0,15000],"range":[508.3,650],"nice":false,"zero":false},
    "axis":{"orient":"bottom","offset":-298,"values":[0,5000,10000,15000],"format":"d","labelFontSize":8,"labelFontWeight":"bold","labelColor":"black","labelPadding":1.5,"domainColor":"black","domainWidth":1,"tickColor":"black","tickWidth":1,"tickSize":3,"title":"Abundance","titleFontSize":8.5,"titleFontWeight":"bold","titleColor":"black","titleY":15}},
   "y":{"field":"y","type":"quantitative","scale":{"type":"log","domain":[0.00001,1],"range":[153,42.3],"nice":false},
    "axis":{"orient":"left","offset":-508.3,"values":[1,0.1,0.01,0.001,0.0001,0.00001],"labelExpr":"'10' + ['⁰','⁻¹','⁻²','⁻³','⁻⁴','⁻⁵'][round(-log(datum.value)/LN10)]","labelFontSize":8,"labelFontWeight":"bold","labelColor":"black","labelPadding":1.5,"domainColor":"black","domainWidth":1,"tickColor":"black","tickWidth":1,"tickSize":3,"title":"Rank","titleFontSize":8.5,"titleFontWeight":"bold","titleColor":"black","titleX":-23.5}},
   "color":{"field":"s","type":"nominal","scale":{"domain":["C1","C2","C3","C4","C5","G1","G2","G3","G4","G5"],"range":["#000000","#3d3d3d","#6b6b6b","#a0a0a0","#cfcfcf","#e9806e","#f0a35e","#2e9e7c","#4a8fc7","#a23b61"]},
    "legend":{"orient":"none","legendX":600,"legendY":33,"title":null,"symbolType":"stroke","symbolSize":70,"symbolStrokeWidth":1.6,"labelFontSize":7.5,"labelFontWeight":"bold","labelColor":"black","rowPadding":0.8,"labelOffset":4}},
   "order":{"value":null}}},
 {"data":{"values":[{}]},"mark":{"type":"text","text":"c","fontSize":17,"fontWeight":"bold"},"encoding":{"x":{"datum":-3000,"type":"quantitative"},"y":{"datum":28.8,"type":"quantitative"}}}
]},
{"data":{"name":"d"},"layer":[
 {"mark":{"type":"bar","size":21,"orient":"vertical","stroke":"black","strokeWidth":1},
  "encoding":{
   "x":{"field":"g","type":"quantitative","scale":{"domain":[0.54,2.507],"range":[715,774],"nice":false,"zero":false},
    "axis":{"orient":"bottom","offset":-318.3,"values":[1,2],"labelExpr":"datum.value==1?'Control':'Glyoxylate'","labelAngle":-45,"labelAlign":"right","labelBaseline":"top","labelFontSize":7,"labelFontWeight":"bold","labelColor":"black","labelPadding":1,"domainColor":"black","domainWidth":1,"tickColor":"black","tickWidth":1,"tickSize":3,"title":null}},
   "y":{"field":"m","type":"quantitative","scale":{"domain":[0,1],"range":[132.7,42.7],"nice":false,"zero":false},
    "axis":{"orient":"left","offset":-715,"values":[0,0.2,0.4,0.6,0.8,1],"format":".1f","labelFontSize":7.5,"labelFontWeight":"bold","labelColor":"black","labelPadding":1.5,"domainColor":"black","domainWidth":1,"tickColor":"black","tickWidth":1,"tickSize":3,"title":"Sinpson Index","titleFontSize":7.5,"titleFontWeight":"bold","titleColor":"black","titleX":-23}},
   "fill":{"condition":{"test":"datum.g==1","value":"black"},"value":"white"}}},
 {"mark":{"type":"rule","color":"black","strokeWidth":1},"encoding":{"x":{"field":"g","type":"quantitative"},"y":{"field":"m","type":"quantitative"},"y2":{"field":"e"}}},
 {"mark":{"type":"tick","orient":"horizontal","size":12,"thickness":1,"color":"black"},"encoding":{"x":{"field":"g","type":"quantitative"},"y":{"field":"e","type":"quantitative"}}},
 {"data":{"name":"dbr"},"mark":{"type":"rule","color":"black","strokeWidth":1},"encoding":{"x":{"field":"x","type":"quantitative"},"x2":{"field":"x2"},"y":{"field":"y","type":"quantitative"},"y2":{"field":"y2"}}},
 {"data":{"values":[{}]},"mark":{"type":"text","text":"*","fontSize":9,"fontWeight":"bold"},"encoding":{"x":{"datum":1.5,"type":"quantitative"},"y":{"datum":1.09,"type":"quantitative"}}},
 {"data":{"values":[{}]},"mark":{"type":"text","text":"d","fontSize":17,"fontWeight":"bold"},"encoding":{"x":{"datum":-0.59,"type":"quantitative"},"y":{"datum":1.363,"type":"quantitative"}}}
]},
{"data":{"name":"he"},"transform":[{"fold":["C1","C2","C3","C4","C5","G1","G2","G3","G4","G5"],"as":["k","v"]}],"layer":[
 {"mark":{"type":"rect"},
  "encoding":{
   "x":{"field":"k","type":"nominal","scale":{"domain":["C1","C2","C3","C4","C5","G1","G2","G3","G4","G5"],"range":[25,163.3],"paddingInner":0,"paddingOuter":0},"axis":null},
   "y":{"field":"cl","type":"nominal","scale":{"domain":["Cluster: 4 Size: 7","Cluster: 23 Size: 6453","Cluster: 1 Size: 13","Cluster: 20 Size: 17","Cluster: 11 Size: 14","Cluster: 29 Size: 7057","Cluster: 21 Size: 6543","Cluster: 30 Size: 5555","Cluster: 16 Size: 2592","Cluster: 26 Size: 7","Cluster: 7 Size: 8","Cluster: 14 Size: 8795","Cluster: 15 Size: 11","Cluster: 22 Size: 6","Cluster: 5 Size: 7","Cluster: 19 Size: 11199","Cluster: 25 Size: 7","Cluster: 17 Size: 14","Cluster: 2 Size: 9815","Cluster: 13 Size: 13","Cluster: 9 Size: 8765","Cluster: 27 Size: 5","Cluster: 10 Size: 8","Cluster: 18 Size: 7","Cluster: 12 Size: 17","Cluster: 28 Size: 20","Cluster: 24 Size: 19","Cluster: 3 Size: 16","Cluster: 6 Size: 18","Cluster: 8 Size: 13112"],"range":[248.3,445],"paddingInner":0,"paddingOuter":0},
    "axis":{"orient":"right","offset":-620.7,"domain":false,"ticks":false,"labelPadding":1.5,"labelFontSize":4.5,"labelColor":"black","title":null}},
   "color":{"field":"v","type":"quantitative","scale":{"domain":[-2.83,-1.83,-0.83,0.17,1.17,2.17,3.17],"range":["#4575b4","#91bfdb","#e0f3f8","#ffffbf","#fee090","#fc8d59","#d73027"],"interpolate":"rgb"},
    "legend":{"orient":"none","legendX":213,"legendY":244,"direction":"vertical","title":null,"gradientLength":72,"gradientThickness":4.5,"gradientStrokeWidth":0,"values":[2,1,0,-1,-2],"labelFontSize":4.5,"labelColor":"#333333","labelOffset":2,"format":"d"}}}},
 {"data":{"values":[{}]},"mark":{"type":"rule","color":"white","strokeWidth":2.5},"encoding":{"x":{"datum":"G1","type":"nominal","bandPosition":0},"y":{"datum":"Cluster: 4 Size: 7","type":"nominal","bandPosition":0},"y2":{"datum":"Cluster: 8 Size: 13112"}}},
 {"data":{"values":[{}]},"mark":{"type":"rule","color":"white","strokeWidth":2.5},"encoding":{"x":{"datum":"G1","type":"nominal","bandPosition":0},"y":{"datum":"Cluster: 8 Size: 13112","type":"nominal","bandPosition":1},"y2":{"datum":"Cluster: 4 Size: 7"}}},
 {"data":{"values":[{"t":"Control","k":"C3"},{"t":"Glyoxylate","k":"G3"}]},"mark":{"type":"text","fontSize":10.5,"fontWeight":"bold","color":"black"},"encoding":{"x":{"field":"k","type":"nominal"},"y":{"datum":"Cluster: 4 Size: 7","type":"nominal","bandPosition":-1.9},"text":{"field":"t"}}},
 {"data":{"values":[{"k":"C1","k2":"C5"},{"k":"G1","k2":"G5"}]},"mark":{"type":"rule","color":"black","strokeWidth":1.3},"encoding":{"x":{"field":"k","type":"nominal"},"x2":{"field":"k2"},"y":{"datum":"Cluster: 4 Size: 7","type":"nominal","bandPosition":-0.6}}}
]},
{"layer":[
 {"data":{"name":"dend"},"mark":{"type":"rule","color":"#555555","strokeWidth":0.6},
  "encoding":{"x":{"field":"a","type":"quantitative","scale":{"domain":[0,22],"range":[23.5,3],"nice":false,"zero":false},"axis":null},"x2":{"field":"b"},
   "y":{"field":"y","type":"quantitative","scale":{"domain":[0.5,30.5],"range":[248.3,445],"nice":false,"zero":false},"axis":null},"y2":{"field":"y2"}}},
 {"data":{"values":[{}]},"mark":{"type":"text","text":"e","fontSize":17,"fontWeight":"bold"},"encoding":{"x":{"datum":19.85,"type":"quantitative"},"y":{"datum":-2.75,"type":"quantitative"}}}
]},
{"layer":[
 {"data":{"values":[{}]},"mark":{"type":"rect","fill":"#ebebeb"},
  "encoding":{
   "x":{"datum":-24.1,"type":"quantitative","scale":{"domain":[-24.1,19.3],"range":[306.7,491],"nice":false,"zero":false},
    "axis":{"orient":"bottom","offset":-19.3,"values":[-20,-10,0,10],"format":"d","domain":false,"tickColor":"#333333","tickSize":2,"tickWidth":0.5,"labelFontSize":4.5,"labelColor":"#4d4d4d","labelPadding":1,"title":"log2(FC)","titleFontSize":5.5,"titleFontWeight":"normal","titleColor":"black","titleY":8}},
   "x2":{"datum":19.3},
   "y":{"datum":-0.16,"type":"quantitative","scale":{"domain":[-0.16,4.02],"range":[431.7,229],"nice":false,"zero":false},
    "axis":{"orient":"left","offset":-306.7,"values":[0,1,2,3,4],"format":"d","domain":false,"tickColor":"#333333","tickSize":2,"tickWidth":0.5,"labelFontSize":4.5,"labelColor":"#4d4d4d","labelPadding":1,"title":"-log10(p)","titleFontSize":5.5,"titleFontWeight":"normal","titleColor":"black","titleX":-9}},
   "y2":{"datum":4.02}}},
 {"data":{"name":"fgxm"},"mark":{"type":"rule","color":"white","strokeWidth":0.4},"encoding":{"x":{"field":"v","type":"quantitative"},"y":{"datum":-0.16,"type":"quantitative"},"y2":{"datum":4.02}}},
 {"data":{"name":"fgym"},"mark":{"type":"rule","color":"white","strokeWidth":0.4},"encoding":{"y":{"field":"v","type":"quantitative"},"x":{"datum":-24.1,"type":"quantitative"},"x2":{"datum":19.3}}},
 {"data":{"name":"fgxM"},"mark":{"type":"rule","color":"white","strokeWidth":0.8},"encoding":{"x":{"field":"v","type":"quantitative"},"y":{"datum":-0.16,"type":"quantitative"},"y2":{"datum":4.02}}},
 {"data":{"name":"fgyM"},"mark":{"type":"rule","color":"white","strokeWidth":0.8},"encoding":{"y":{"field":"v","type":"quantitative"},"x":{"datum":-24.1,"type":"quantitative"},"x2":{"datum":19.3}}},
 {"data":{"values":[{"v":-1},{"v":1}]},"mark":{"type":"rule","color":"#444444","strokeWidth":0.6,"strokeDash":[1,1.2]},"encoding":{"x":{"field":"v","type":"quantitative"},"y":{"datum":-0.16,"type":"quantitative"},"y2":{"datum":4.02}}},
 {"data":{"values":[{"v":1.3}]},"mark":{"type":"rule","color":"#444444","strokeWidth":0.6,"strokeDash":[1,1.2]},"encoding":{"y":{"field":"v","type":"quantitative"},"x":{"datum":-24.1,"type":"quantitative"},"x2":{"datum":19.3}}},
 {"data":{"name":"vol"},"mark":{"type":"circle","size":5,"opacity":1},
  "encoding":{"x":{"field":"x","type":"quantitative"},"y":{"field":"y","type":"quantitative"},
   "color":{"field":"s","type":"nominal","scale":{"domain":["Down","No","Up"],"range":["#1b1ba0","#b0b0b0","#cc2020"]},
    "legend":{"orient":"none","legendX":496,"legendY":313,"title":"Significant","titleFontSize":5.5,"titleFontWeight":"bold","titleColor":"black","titlePadding":3,"labelFontSize":5.5,"labelFontWeight":"bold","labelColor":"black","symbolType":"circle","symbolSize":8,"rowPadding":2,"labelOffset":3}}}},
 {"data":{"values":[{}]},"mark":{"type":"text","text":"Volcanoplot","fontSize":7,"fontWeight":"bold","baseline":"bottom"},"encoding":{"x":{"datum":-0.2,"type":"quantitative"},"y":{"datum":4.05,"type":"quantitative"}}},
 {"data":{"values":[{}]},"mark":{"type":"text","text":"f","fontSize":17,"fontWeight":"bold"},"encoding":{"x":{"datum":-30.1,"type":"quantitative"},"y":{"datum":4.12,"type":"quantitative"}}}
]},
{"layer":[
 {"data":{"values":[{}]},"mark":{"type":"rect","fill":"#ebebeb"},
  "encoding":{
   "x":{"datum":-0.25,"type":"quantitative","scale":{"domain":[-0.25,0.731],"range":[570,740],"nice":false,"zero":false},
    "axis":{"orient":"bottom","offset":-13,"values":[0,0.25,0.5],"format":".2f","domain":false,"tickColor":"#333333","tickSize":2,"tickWidth":0.5,"labelFontSize":4.5,"labelColor":"#4d4d4d","labelPadding":1,"title":"PC1 ( 10 % of variance )","titleFontSize":5.5,"titleFontWeight":"normal","titleColor":"black","titleY":8}},
   "x2":{"datum":0.731},
   "y":{"datum":-0.366,"type":"quantitative","scale":{"domain":[-0.366,0.783],"range":[438,227],"nice":false,"zero":false},
    "axis":{"orient":"left","offset":-570,"values":[-0.25,0,0.25,0.5,0.75],"format":".2f","domain":false,"tickColor":"#333333","tickSize":2,"tickWidth":0.5,"labelFontSize":4.5,"labelColor":"#4d4d4d","labelPadding":1,"title":"PC2 ( 10 % of variance )","titleFontSize":5.5,"titleFontWeight":"normal","titleColor":"black","titleX":-14}},
   "y2":{"datum":0.783}}},
 {"data":{"name":"ggxm"},"mark":{"type":"rule","color":"white","strokeWidth":0.4},"encoding":{"x":{"field":"v","type":"quantitative"},"y":{"datum":-0.366,"type":"quantitative"},"y2":{"datum":0.783}}},
 {"data":{"name":"ggym"},"mark":{"type":"rule","color":"white","strokeWidth":0.4},"encoding":{"y":{"field":"v","type":"quantitative"},"x":{"datum":-0.25,"type":"quantitative"},"x2":{"datum":0.731}}},
 {"data":{"name":"ggxM"},"mark":{"type":"rule","color":"white","strokeWidth":0.8},"encoding":{"x":{"field":"v","type":"quantitative"},"y":{"datum":-0.366,"type":"quantitative"},"y2":{"datum":0.783}}},
 {"data":{"name":"ggyM"},"mark":{"type":"rule","color":"white","strokeWidth":0.8},"encoding":{"y":{"field":"v","type":"quantitative"},"x":{"datum":-0.25,"type":"quantitative"},"x2":{"datum":0.731}}},
 {"data":{"name":"pca"},"mark":{"type":"point","filled":false,"size":50,"strokeWidth":0.8,"opacity":0.7},
  "encoding":{"x":{"field":"x","type":"quantitative"},"y":{"field":"y","type":"quantitative"},
   "shape":{"field":"grp","type":"nominal","scale":{"domain":["Control","Glyoxylate"],"range":["square","circle"]},"legend":null},
   "color":{"field":"grp","type":"nominal","scale":{"domain":["Control","Glyoxylate"],"range":["#F8766D","#00BFC4"]},
    "legend":{"orient":"none","legendX":747,"legendY":329,"title":null,"symbolType":"square","symbolSize":12,"symbolStrokeWidth":1.5,"labelFontSize":5.5,"labelFontWeight":"bold","labelColor":"black","rowPadding":1,"labelOffset":3}}}},
 {"data":{"values":[{}]},"mark":{"type":"text","text":"Principal Components Analysis","fontSize":7,"fontWeight":"bold","baseline":"bottom"},"encoding":{"x":{"datum":0.24,"type":"quantitative"},"y":{"datum":0.79,"type":"quantitative"}}},
 {"data":{"values":[{}]},"mark":{"type":"text","text":"g","fontSize":17,"fontWeight":"bold"},"encoding":{"x":{"datum":-0.463,"type":"quantitative"},"y":{"datum":0.804,"type":"quantitative"}}}
]}
],
"resolve":{"scale":{"x":"independent","y":"independent","color":"independent","fill":"independent","shape":"independent"}}
}
